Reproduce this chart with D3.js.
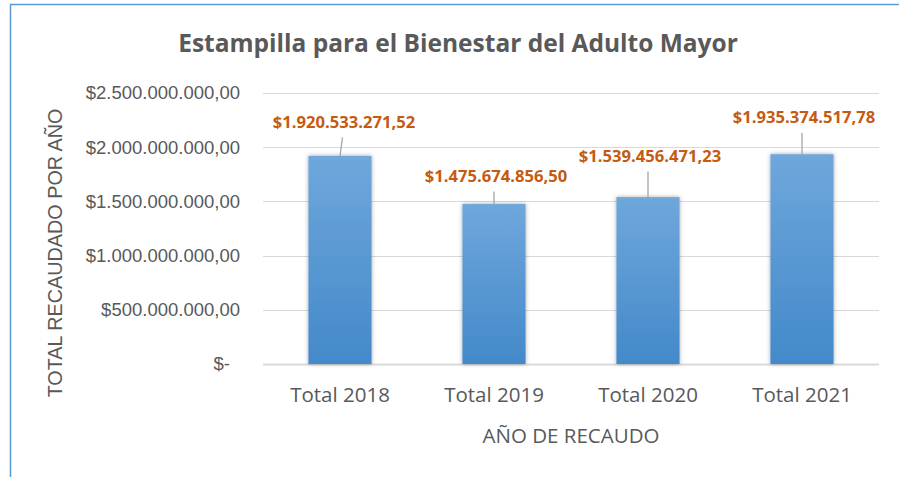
<!DOCTYPE html>
<html>
<head>
<meta charset="utf-8">
<script src="https://cdn.jsdelivr.net/npm/d3@7"></script>
<style>
  body { margin: 0; background: #fff; }
  svg { display: block; }
</style>
</head>
<body>
<div id="chart"></div>
<script>
const categories = ['Total 2018', 'Total 2019', 'Total 2020', 'Total 2021'];
const values = [1920533271.52, 1475674856.50, 1539456471.23, 1935374517.78];
const valueLabels = ['$1.920.533.271,52', '$1.475.674.856,50', '$1.539.456.471,23', '$1.935.374.517,78'];
const yTicks = [0, 500000000, 1000000000, 1500000000, 2000000000, 2500000000];
const yTickLabels = ['$-', '$500.000.000,00', '$1.000.000.000,00', '$1.500.000.000,00', '$2.000.000.000,00', '$2.500.000.000,00'];
// labels were moved by hand in Excel: lift above bar top, shift from bar centre
const labelLift = [28, 22, 35, 31];
const labelShift = [4, 2, 2, 2];

const width = 899, height = 477;
const margin = { top: 93, right: 20, bottom: 113, left: 263 };
const innerW = 879 - margin.left;
const innerH = 364 - margin.top;

const svg = d3.select('#chart')
  .append('svg')
  .attr('width', width)
  .attr('height', height);

const defs = svg.append('defs');
const grad = defs.append('linearGradient')
  .attr('id', 'barGrad')
  .attr('x1', 0).attr('y1', 0).attr('x2', 0).attr('y2', 1);
grad.append('stop').attr('offset', '0%').attr('stop-color', '#6fa7dc');
grad.append('stop').attr('offset', '100%').attr('stop-color', '#4389c9');

const shadow = defs.append('filter').attr('id', 'shadow')
  .attr('x', '-20%').attr('y', '-10%').attr('width', '140%').attr('height', '120%');
shadow.append('feDropShadow')
  .attr('dx', 0).attr('dy', 0).attr('stdDeviation', 2)
  .attr('flood-color', '#000').attr('flood-opacity', 0.35);

// chart border
svg.append('rect')
  .attr('x', 10.5).attr('y', 4.5)
  .attr('width', 900).attr('height', 480)
  .attr('fill', 'none')
  .attr('stroke', '#5b9bd5')
  .attr('stroke-width', 1.5);

const g = svg.append('g')
  .attr('transform', `translate(${margin.left}, ${margin.top})`);

const x = d3.scaleBand()
  .domain(categories)
  .range([0, innerW])
  .paddingInner(0.59)
  .paddingOuter(0.295);

const y = d3.scaleLinear()
  .domain([0, 2500000000])
  .range([innerH, 0]);

// gridlines
g.append('g')
  .selectAll('line')
  .data(yTicks)
  .enter()
  .append('line')
  .attr('x1', 0).attr('x2', innerW)
  .attr('y1', d => Math.round(y(d)) + 0.5)
  .attr('y2', d => Math.round(y(d)) + 0.5)
  .attr('stroke', '#d9d9d9')
  .attr('stroke-width', d => d === 0 ? 2 : 1.2);

// y axis labels
const yAxis = d3.axisLeft(y)
  .tickValues(yTicks)
  .tickFormat((d, i) => yTickLabels[i])
  .tickSize(0)
  .tickPadding(23);
const yg = g.append('g').call(yAxis);
yg.select('.domain').remove();
yg.selectAll('text')
  .attr('fill', '#595959')
  .style('font-family', '"Liberation Sans", Arial, sans-serif')
  .style('font-size', '18.5px')
  .attr('dx', d => d === 0 ? -10 : 0);

// x axis labels
const xAxis = d3.axisBottom(x).tickSize(0).tickPadding(23);
const xg = g.append('g').attr('transform', `translate(0, ${innerH})`).call(xAxis);
xg.select('.domain').remove();
xg.selectAll('text')
  .attr('fill', '#595959')
  .style('font-family', '"Open Sans", sans-serif')
  .style('font-size', '20.5px');

// bars
g.selectAll('rect.bar')
  .data(values)
  .enter()
  .append('rect')
  .attr('class', 'bar')
  .attr('x', (d, i) => x(categories[i]))
  .attr('y', d => y(d))
  .attr('width', x.bandwidth())
  .attr('height', d => innerH - y(d))
  .attr('fill', 'url(#barGrad)')
  .attr('filter', 'url(#shadow)');

// leader lines
g.selectAll('line.leader')
  .data(values)
  .enter()
  .append('line')
  .attr('class', 'leader')
  .attr('x1', (d, i) => x(categories[i]) + x.bandwidth() / 2)
  .attr('x2', (d, i) => x(categories[i]) + x.bandwidth() / 2 + (i === 0 ? 2.5 : 0))
  .attr('y1', d => y(d))
  .attr('y2', (d, i) => y(d) - labelLift[i] + 9.5)
  .attr('stroke', '#a6a6a6')
  .attr('stroke-width', 1.3);

// value labels
g.selectAll('text.val')
  .data(values)
  .enter()
  .append('text')
  .attr('class', 'val')
  .attr('x', (d, i) => x(categories[i]) + x.bandwidth() / 2 + labelShift[i])
  .attr('y', (d, i) => y(d) - labelLift[i])
  .attr('text-anchor', 'middle')
  .attr('fill', '#c55a11')
  .style('font-family', '"Open Sans", sans-serif')
  .style('font-weight', 'bold')
  .style('font-size', '16.6px')
  .text((d, i) => valueLabels[i]);

// title
svg.append('text')
  .attr('x', 458)
  .attr('y', 52)
  .attr('text-anchor', 'middle')
  .attr('fill', '#595959')
  .style('font-family', '"Open Sans", sans-serif')
  .style('font-weight', 'bold')
  .style('font-size', '24.5px')
  .text('Estampilla para el Bienestar del Adulto Mayor');

// axis titles
svg.append('text')
  .attr('transform', 'translate(62, 253) rotate(-90)')
  .attr('text-anchor', 'middle')
  .attr('fill', '#595959')
  .style('font-family', '"Liberation Sans", Arial, sans-serif')
  .style('font-size', '19.8px')
  .text('TOTAL RECAUDADO POR AÑO');

svg.append('text')
  .attr('x', 571)
  .attr('y', 443)
  .attr('text-anchor', 'middle')
  .attr('fill', '#595959')
  .style('font-family', '"Open Sans", sans-serif')
  .style('font-size', '20.5px')
  .text('AÑO DE RECAUDO');
</script>
</body>
</html>
